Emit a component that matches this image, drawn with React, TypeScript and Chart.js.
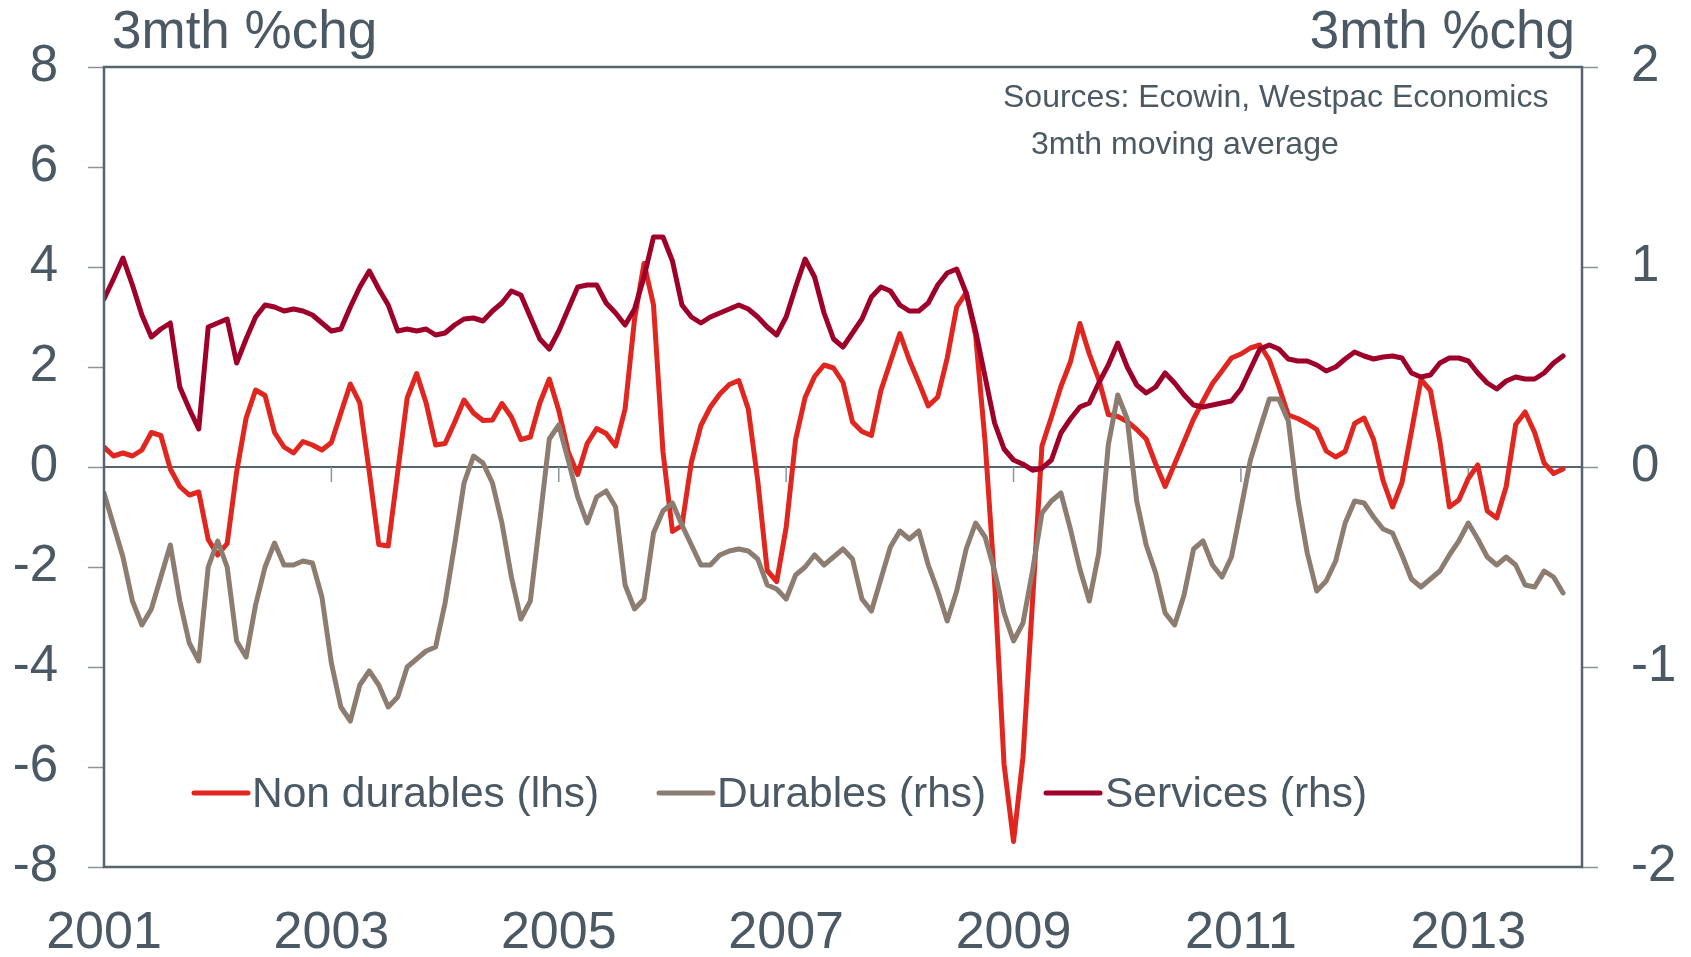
import React, { useEffect, useRef } from 'react';
import { Chart, registerables } from 'chart.js';

Chart.register(...registerables);

// ---- data ----
const START_YEAR = 2001;
const MONTHS_SPAN = 156; // Jan 2001 .. Jan 2014
const yearTickLabels = [2001, 2003, 2005, 2007, 2009, 2011, 2013];
const leftTicks = [8, 6, 4, 2, 0, -2, -4, -6, -8];
const rightTicks = [2, 1, 0, -1, -2];
const seriesNames = ['Non durables (lhs)', 'Durables (rhs)', 'Services (rhs)'];

// monthly, Jan 2001 .. Nov 2013 (3mth %chg, 3mth moving average)
const nonDurables = [
  0.40, 0.22, 0.28, 0.22, 0.34, 0.69, 0.63, -0.04, -0.39, -0.56, -0.50, -1.45,
  -1.76, -1.53, -0.10, 0.98, 1.54, 1.43, 0.69, 0.40, 0.28, 0.51, 0.44, 0.34,
  0.49, 1.08, 1.66, 1.28, -0.10, -1.55, -1.58, -0.10, 1.38, 1.87, 1.28, 0.44,
  0.47, 0.89, 1.34, 1.08, 0.93, 0.94, 1.27, 1.00, 0.55, 0.60, 1.28, 1.76,
  1.13, 0.30, -0.15, 0.47, 0.77, 0.67, 0.42, 1.16, 2.96, 4.07, 3.24, 0.30,
  -1.29, -1.17, 0.10, 0.83, 1.20, 1.46, 1.65, 1.73, 1.16, -0.27, -2.07, -2.29,
  -1.21, 0.55, 1.39, 1.81, 2.04, 1.98, 1.69, 0.90, 0.71, 0.63, 1.53, 2.10,
  2.67, 2.14, 1.69, 1.22, 1.40, 2.18, 3.20, 3.49, 2.63, 0.50, -2.30, -5.95,
  -7.49, -5.80, -2.70, 0.42, 1.00, 1.61, 2.10, 2.87, 2.26, 1.75, 1.05, 1.01,
  0.91, 0.75, 0.56, 0.06, -0.39, 0.06, 0.51, 0.96, 1.32, 1.67, 1.92, 2.18,
  2.26, 2.38, 2.44, 2.14, 1.61, 1.04, 0.97, 0.87, 0.75, 0.32, 0.20, 0.31,
  0.87, 0.98, 0.55, -0.27, -0.80, -0.31, 0.71, 1.75, 1.53, 0.51, -0.80, -0.66,
  -0.23, 0.04, -0.88, -1.02, -0.39, 0.85, 1.10, 0.69, 0.08, -0.13, -0.04,
];

const durables = [
  -0.13, -0.29, -0.45, -0.67, -0.79, -0.71, -0.55, -0.39, -0.67, -0.88, -0.97, -0.50,
  -0.37, -0.50, -0.87, -0.95, -0.69, -0.50, -0.38, -0.49, -0.49, -0.47, -0.48, -0.65,
  -0.98, -1.20, -1.27, -1.09, -1.02, -1.09, -1.20, -1.15, -1.00, -0.96, -0.92, -0.90,
  -0.68, -0.39, -0.08, 0.055, 0.02, -0.08, -0.28, -0.55, -0.76, -0.67, -0.27, 0.14,
  0.21, 0.035, -0.15, -0.28, -0.15, -0.12, -0.20, -0.59, -0.71, -0.66, -0.33, -0.22,
  -0.18, -0.29, -0.39, -0.49, -0.49, -0.44, -0.42, -0.41, -0.42, -0.46, -0.59, -0.61,
  -0.66, -0.54, -0.50, -0.44, -0.49, -0.45, -0.41, -0.46, -0.66, -0.72, -0.56, -0.40,
  -0.32, -0.36, -0.32, -0.49, -0.62, -0.77, -0.62, -0.41, -0.28, -0.35, -0.52, -0.73,
  -0.87, -0.78, -0.52, -0.23, -0.17, -0.13, -0.31, -0.51, -0.67, -0.43, 0.11, 0.36,
  0.24, -0.17, -0.39, -0.53, -0.73, -0.79, -0.64, -0.41, -0.37, -0.49, -0.55, -0.45,
  -0.21, 0.035, 0.19, 0.34, 0.34, 0.23, -0.16, -0.43, -0.62, -0.57, -0.47, -0.28,
  -0.17, -0.18, -0.25, -0.31, -0.33, -0.44, -0.56, -0.60, -0.56, -0.52, -0.44, -0.37,
  -0.28, -0.36, -0.45, -0.49, -0.45, -0.49, -0.59, -0.60, -0.52, -0.55, -0.63,
];

const services = [
  0.84, 0.94, 1.045, 0.91, 0.76, 0.65, 0.69, 0.72, 0.40, 0.29, 0.19, 0.70,
  0.72, 0.74, 0.52, 0.64, 0.75, 0.81, 0.80, 0.78, 0.79, 0.78, 0.76, 0.72,
  0.68, 0.69, 0.80, 0.90, 0.98, 0.89, 0.81, 0.68, 0.69, 0.68, 0.69, 0.66,
  0.67, 0.71, 0.74, 0.745, 0.73, 0.78, 0.82, 0.88, 0.86, 0.75, 0.64, 0.59,
  0.68, 0.79, 0.90, 0.91, 0.91, 0.82, 0.77, 0.71, 0.79, 0.95, 1.15, 1.15,
  1.03, 0.81, 0.75, 0.72, 0.75, 0.77, 0.79, 0.81, 0.79, 0.75, 0.70, 0.66,
  0.75, 0.90, 1.04, 0.95, 0.77, 0.64, 0.60, 0.67, 0.74, 0.85, 0.90, 0.88,
  0.81, 0.78, 0.78, 0.82, 0.91, 0.97, 0.99, 0.87, 0.68, 0.45, 0.22, 0.09,
  0.035, 0.014, -0.016, -0.006, 0.035, 0.17, 0.24, 0.30, 0.32, 0.42, 0.51, 0.62,
  0.50, 0.41, 0.37, 0.40, 0.47, 0.42, 0.36, 0.31, 0.30, 0.31, 0.32, 0.33,
  0.39, 0.49, 0.59, 0.61, 0.59, 0.54, 0.53, 0.53, 0.51, 0.48, 0.50, 0.54,
  0.575, 0.555, 0.54, 0.55, 0.555, 0.545, 0.47, 0.45, 0.46, 0.52, 0.545, 0.545,
  0.53, 0.47, 0.42, 0.39, 0.43, 0.45, 0.44, 0.44, 0.47, 0.52, 0.555,
];

// ---- style ----
const FONT = "'Liberation Sans', Arial, Helvetica, sans-serif";
const TEXT = '#4A5964';
const AXIS = '#56646E';
const TICK = '#8A959C';
const RED = '#E0261E';
const TAUPE = '#8C7D70';
const CRIMSON = '#9E0029';
const W = 1691;
const H = 957;

const toPoints = (arr: number[]) => arr.map((v, i) => ({ x: i, y: v }));

const decor = {
  id: 'decor',
  beforeDatasetsDraw(chart: any) {
    const { ctx, chartArea: a, scales } = chart;
    const y0 = scales.yL.getPixelForValue(0);
    ctx.save();
    ctx.strokeStyle = AXIS;
    ctx.lineWidth = 2;
    ctx.beginPath();
    ctx.moveTo(a.left, y0);
    ctx.lineTo(a.right, y0);
    ctx.stroke();
    ctx.strokeStyle = TICK;
    ctx.lineWidth = 1.5;
    yearTickLabels.forEach((yr) => {
      const px = scales.x.getPixelForValue((yr - START_YEAR) * 12);
      if (px <= a.left + 1) return;
      ctx.beginPath();
      ctx.moveTo(px, y0);
      ctx.lineTo(px, y0 + 15);
      ctx.stroke();
    });
    ctx.restore();
  },
  afterDraw(chart: any) {
    const { ctx, chartArea: a } = chart;
    ctx.save();
    // frame
    ctx.strokeStyle = AXIS;
    ctx.lineWidth = 2.5;
    ctx.strokeRect(a.left, a.top, a.right - a.left, a.bottom - a.top);
    // axis titles
    ctx.fillStyle = TEXT;
    ctx.textBaseline = 'alphabetic';
    ctx.font = `53px ${FONT}`;
    ctx.textAlign = 'left';
    ctx.fillText('3mth %chg', 112, 48);
    ctx.textAlign = 'right';
    ctx.fillText('3mth %chg', 1575, 48);
    // sources
    ctx.font = `32px ${FONT}`;
    ctx.textAlign = 'left';
    ctx.fillText('Sources: Ecowin, Westpac Economics', 1003, 107);
    ctx.fillText('3mth moving average', 1031, 154);
    // legend
    const items = [
      { name: seriesNames[0], color: RED, x0: 194, x1: 248, tx: 252 },
      { name: seriesNames[1], color: TAUPE, x0: 659, x1: 713, tx: 717 },
      { name: seriesNames[2], color: CRIMSON, x0: 1046, x1: 1100, tx: 1105 },
    ];
    const ly = 793;
    ctx.lineCap = 'round';
    ctx.lineWidth = 5;
    ctx.font = `42.5px ${FONT}`;
    items.forEach((it) => {
      ctx.strokeStyle = it.color;
      ctx.beginPath();
      ctx.moveTo(it.x0, ly);
      ctx.lineTo(it.x1, ly);
      ctx.stroke();
      ctx.fillStyle = TEXT;
      ctx.textAlign = 'left';
      ctx.textBaseline = 'alphabetic';
      ctx.fillText(it.name, it.tx, 807);
    });
    ctx.restore();
  },
};

export default function App() {
  const canvasRef = useRef<HTMLCanvasElement | null>(null);

  useEffect(() => {
    const canvas = canvasRef.current;
    if (!canvas) return;
    const lineBase = {
      borderWidth: 5,
      pointRadius: 0,
      pointHoverRadius: 0,
      tension: 0,
      borderJoinStyle: 'round' as const,
      borderCapStyle: 'round' as const,
      fill: false,
    };
    const chart = new Chart(canvas, {
      type: 'line',
      data: {
        datasets: [
          { ...lineBase, label: seriesNames[0], data: toPoints(nonDurables), borderColor: RED, yAxisID: 'yL', order: 2 },
          { ...lineBase, label: seriesNames[1], data: toPoints(durables), borderColor: TAUPE, yAxisID: 'yR', order: 1 },
          { ...lineBase, label: seriesNames[2], data: toPoints(services), borderColor: CRIMSON, yAxisID: 'yR', order: 0 },
        ],
      },
      options: {
        responsive: false,
        animation: false,
        devicePixelRatio: 1,
        layout: { padding: { top: 67, left: 0, right: 0, bottom: 0 } },
        plugins: {
          legend: { display: false },
          title: { display: false },
          tooltip: { enabled: false },
        },
        events: [],
        scales: {
          x: {
            type: 'linear',
            position: 'bottom',
            min: 0,
            max: MONTHS_SPAN,
            afterBuildTicks: (s: any) => {
              s.ticks = yearTickLabels.map((y) => ({ value: (y - START_YEAR) * 12 }));
            },
            afterFit: (s: any) => {
              s.height = 90;
            },
            ticks: {
              color: TEXT,
              font: { family: FONT, size: 52 },
              padding: 35,
              maxRotation: 0,
              autoSkip: false,
              callback: (v: any) => String(START_YEAR + Number(v) / 12),
            },
            grid: { display: false, drawTicks: false },
            border: { display: false },
          },
          yL: {
            type: 'linear',
            position: 'left',
            min: -8,
            max: 8,
            afterBuildTicks: (s: any) => {
              s.ticks = leftTicks.map((v) => ({ value: v }));
            },
            afterFit: (s: any) => {
              s.width = 104;
            },
            ticks: {
              color: TEXT,
              font: { family: FONT, size: 51 },
              padding: 30,
              callback: (v: any) => String(v),
            },
            grid: {
              drawOnChartArea: false,
              drawTicks: true,
              tickLength: 16,
              tickColor: TICK,
              tickWidth: 1.5,
              color: TICK,
            },
            border: { display: false },
          },
          yR: {
            type: 'linear',
            position: 'right',
            min: -2,
            max: 2,
            afterBuildTicks: (s: any) => {
              s.ticks = rightTicks.map((v) => ({ value: v }));
            },
            afterFit: (s: any) => {
              s.width = 109;
            },
            ticks: {
              color: TEXT,
              font: { family: FONT, size: 51 },
              padding: 33,
              callback: (v: any) => String(v),
            },
            grid: {
              drawOnChartArea: false,
              drawTicks: true,
              tickLength: 16,
              tickColor: TICK,
              tickWidth: 1.5,
              color: TICK,
            },
            border: { display: false },
          },
        },
      } as any,
      plugins: [decor],
    });
    return () => chart.destroy();
  }, []);

  return (
    <div style={{ position: 'absolute', left: 0, top: 0, width: W, height: H, background: '#fff' }}>
      <canvas ref={canvasRef} width={W} height={H} style={{ width: W, height: H, display: 'block' }} />
    </div>
  );
}
